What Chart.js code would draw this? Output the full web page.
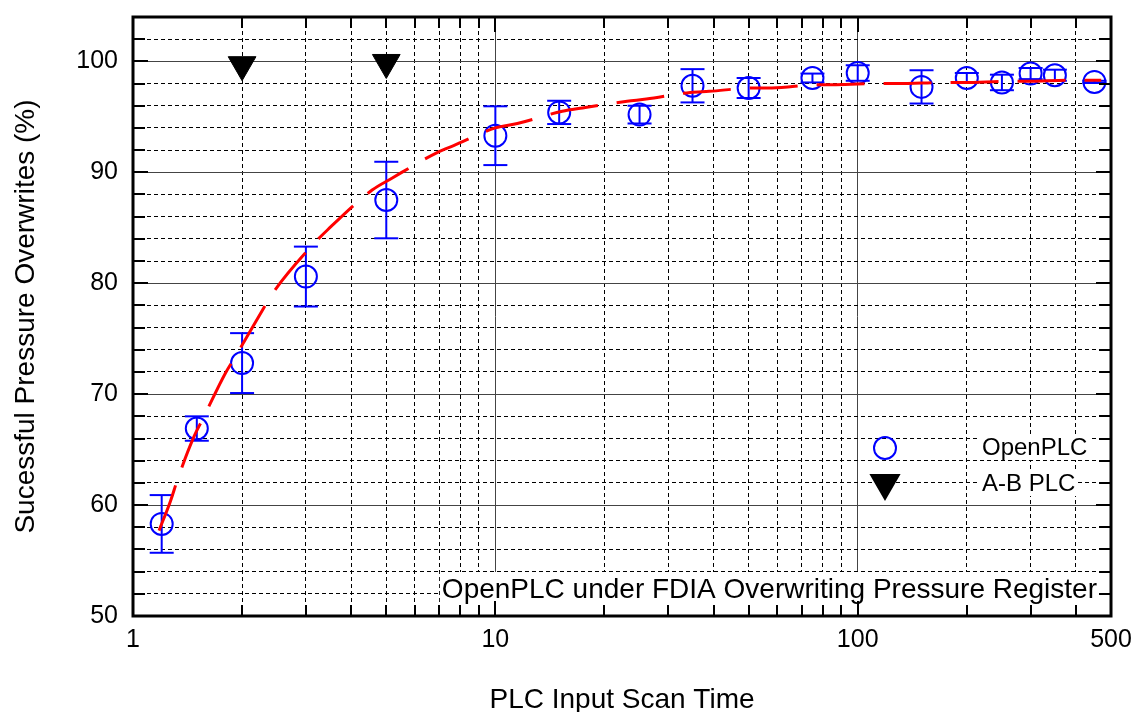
<!DOCTYPE html>
<html>
<head>
<meta charset="utf-8">
<title>OpenPLC under FDIA Overwriting Pressure Register</title>
<script src="https://cdn.jsdelivr.net/npm/chart.js@4.4.1/dist/chart.umd.min.js"></script>
<style>
  html, body { margin: 0; padding: 0; background: #fff; }
  #chart { display: block; }
</style>
</head>
<body>
<canvas id="chart" width="1138" height="712"></canvas>
<script>
/* ── values ── */
const openX   = [1.2, 1.5, 2, 3, 5, 10, 15, 25, 35, 50, 75, 100, 150, 200, 250, 300, 350, 450];
const openY   = [58.3, 66.9, 72.8, 80.6, 87.5, 93.3, 95.4, 95.2, 97.8, 97.6, 98.5, 98.95, 97.7, 98.5, 98.1, 98.9, 98.75, 98.15];
const openErr = [2.6, 1.1, 2.7, 2.7, 3.45, 2.65, 1.05, 0.8, 1.5, 0.9, 0.4, 0.7, 1.5, 0.45, 0.7, 0.5, 0.5, 0.1];

const abX = [2, 5];
const abY = [99.7, 99.9];

// dashed fit curve, traced point by point
const fitX = [1.18, 1.27, 1.33, 1.47, 1.56, 1.8, 1.91, 2.27, 2.43, 3.1, 3.44, 4.57, 5.14, 6.93, 7.67, 10,
              11.5, 15.3, 17.4, 23.1, 26.1, 34.5, 38.9, 51.8, 58, 77.6, 87, 115, 129, 175, 196, 260, 291, 390, 470];
const fitY = [57.7, 60.4, 62.4, 66.1, 67.8, 71.9, 73.3, 77.5, 79.1, 83.3, 84.8, 88.4, 89.4, 91.8, 92.4, 94.0,
              94.4, 95.5, 95.8, 96.4, 96.6, 97.2, 97.3, 97.6, 97.6, 97.9, 97.9, 98.0, 98.0, 98.1, 98.1, 98.2, 98.2, 98.3, 98.3];

// axes
const xGrid   = [1, 2, 3, 4, 5, 6, 7, 8, 9, 10, 20, 30, 40, 50, 60, 70, 80, 90, 100, 200, 300, 400, 500];
const xMajor  = [1, 10, 100];
const xLabels = [1, 10, 100, 500];
const yLabels = [50, 60, 70, 80, 90, 100];

const xTitle = 'PLC Input Scan Time';
const yTitle = 'Sucessful Pressure Overwrites (%)';
const note   = 'OpenPLC under FDIA Overwriting Pressure Register';
const legendItems = [
  { label: 'OpenPLC', style: 'circle',   radius: 11, rotation: 0,   fill: false, color: '#0000ff' },
  { label: 'A-B PLC', style: 'triangle', radius: 16, rotation: 180, fill: true,  color: '#000000' },
];

const FONT = '"Liberation Sans", Arial, sans-serif';
const isMajorX = c => c.tick && xMajor.includes(c.tick.value);
const isMajorY = c => c.tick && c.tick.value % 10 === 0;

function line(ctx, x1, y1, x2, y2) {
  ctx.beginPath(); ctx.moveTo(x1, y1); ctx.lineTo(x2, y2); ctx.stroke();
}

/* frame, error bars, labels and the in-plot legend */
const frame = {
  id: 'frame',
  beforeDatasetsDraw(chart) {
    const { ctx, chartArea: a, scales: { x, y } } = chart;
    ctx.save();

    // white boxes behind in-plot text hide the grid
    ctx.fillStyle = '#fff';
    ctx.font = '28px ' + FONT;
    const nw = ctx.measureText(note).width;
    ctx.fillRect(a.right - 14 - nw - 2, a.bottom - 44, nw + 16, 44);
    ctx.font = '24px ' + FONT;
    legendItems.forEach((it, i) => {
      const w = ctx.measureText(it.label).width;
      ctx.fillRect(a.right - 129 - 2, a.bottom - 180 + i * 36, w + 4, 24);
    });

    // error bars
    ctx.strokeStyle = '#0000ff';
    ctx.lineWidth = 2;
    openX.forEach((v, i) => {
      const px = x.getPixelForValue(v);
      const top = y.getPixelForValue(openY[i] + openErr[i]);
      const bot = y.getPixelForValue(openY[i] - openErr[i]);
      line(ctx, px, top, px, bot);
      line(ctx, px - 12, top, px + 12, top);
      line(ctx, px - 12, bot, px + 12, bot);
    });
    ctx.restore();
  },
  afterDraw(chart) {
    const { ctx, chartArea: a, scales: { x, y } } = chart;
    ctx.save();

    // inner ticks on all four sides
    ctx.strokeStyle = '#000';
    ctx.lineWidth = 2;
    x.ticks.forEach(t => {
      if (t.value <= x.min || t.value >= x.max) return;
      const px = Math.round(x.getPixelForValue(t.value));
      const len = xMajor.includes(t.value) ? 15 : 11;
      line(ctx, px, a.bottom, px, a.bottom - len);
      line(ctx, px, a.top, px, a.top + len);
    });
    y.ticks.forEach(t => {
      if (t.value <= y.min || t.value >= y.max) return;
      const py = Math.round(y.getPixelForValue(t.value));
      const len = t.value % 10 === 0 ? 15 : 12;
      line(ctx, a.left, py, a.left + len, py);
      line(ctx, a.right, py, a.right - len, py);
    });

    ctx.lineWidth = 3;
    ctx.strokeRect(a.left, a.top, a.right - a.left, a.bottom - a.top);

    // tick labels
    ctx.fillStyle = '#000';
    ctx.font = '25px ' + FONT;
    ctx.textAlign = 'center';
    ctx.textBaseline = 'middle';
    xLabels.forEach(v => ctx.fillText(String(v), x.getPixelForValue(v), a.bottom + 24));
    ctx.textAlign = 'right';
    yLabels.forEach(v => ctx.fillText(String(v), a.left - 15, y.getPixelForValue(v)));

    // axis titles
    ctx.font = '28px ' + FONT;
    ctx.textAlign = 'center';
    ctx.textBaseline = 'alphabetic';
    ctx.fillText(xTitle, (a.left + a.right) / 2, a.bottom + 92);
    ctx.save();
    ctx.translate(34, (a.top + a.bottom) / 2);
    ctx.rotate(-Math.PI / 2);
    ctx.fillText(yTitle, 0, 0);
    ctx.restore();

    // note in the lower right corner
    ctx.textAlign = 'right';
    ctx.fillText(note, a.right - 14, a.bottom - 18);

    // legend
    ctx.font = '24px ' + FONT;
    ctx.textAlign = 'left';
    ctx.textBaseline = 'middle';
    legendItems.forEach((it, i) => {
      const cy = a.bottom - 168 + i * 36;
      ctx.fillStyle = it.fill ? it.color : 'rgba(0,0,0,0)';
      ctx.strokeStyle = it.color;
      ctx.lineWidth = 2;
      Chart.helpers.drawPoint(ctx, { pointStyle: it.style, radius: it.radius, rotation: it.rotation, borderWidth: it.fill ? 1 : 2 },
        a.right - 226, cy + (it.style === 'triangle' ? -1 : 0));
      ctx.fillStyle = '#000';
      ctx.fillText(it.label, a.right - 129, cy);
    });
    ctx.restore();
  },
};

new Chart(document.getElementById('chart'), {
  type: 'scatter',
  data: {
    datasets: [
      {
        label: 'fit',
        data: fitX.map((v, i) => ({ x: v, y: fitY[i] })),
        showLine: true,
        borderColor: '#ff0000',
        borderWidth: 3,
        borderDash: [48, 19],
        cubicInterpolationMode: 'monotone',
        pointRadius: 0,
        fill: false,
        order: 0,
      },
      {
        label: 'OpenPLC',
        data: openX.map((v, i) => ({ x: v, y: openY[i] })),
        pointStyle: 'circle',
        pointRadius: 11,
        pointBorderWidth: 2,
        pointBorderColor: '#0000ff',
        pointBackgroundColor: 'rgba(0,0,0,0)',
        showLine: false,
        order: 1,
      },
      {
        label: 'A-B PLC',
        data: abX.map((v, i) => ({ x: v, y: abY[i] })),
        pointStyle: 'triangle',
        pointRotation: 180,
        pointRadius: 16,
        pointBorderWidth: 1,
        pointBorderColor: '#000',
        pointBackgroundColor: '#000',
        showLine: false,
        order: 2,
      },
    ],
  },
  options: {
    responsive: false,
    animation: false,
    devicePixelRatio: 1,
    layout: { padding: { left: 133, top: 14, right: 27, bottom: 96 } },
    plugins: { legend: { display: false }, tooltip: { enabled: false } },
    scales: {
      x: {
        type: 'logarithmic',
        min: 1,
        max: 500,
        afterBuildTicks: s => { s.ticks = xGrid.map(v => ({ value: v })); },
        afterFit: s => { s.height = 0; },
        ticks: { display: false },
        grid: { drawTicks: false, lineWidth: 1, color: c => isMajorX(c) ? '#444' : '#000' },
        border: { display: false, dash: c => isMajorX(c) ? [] : [4, 3] },
      },
      y: {
        type: 'linear',
        min: 50,
        max: 104,
        afterFit: s => { s.width = 0; },
        ticks: { display: false, stepSize: 2 },
        grid: { drawTicks: false, lineWidth: 1, color: c => isMajorY(c) ? '#444' : '#000' },
        border: { display: false, dash: c => isMajorY(c) ? [] : [4, 3] },
      },
    },
  },
  plugins: [frame],
});
</script>
</body>
</html>
